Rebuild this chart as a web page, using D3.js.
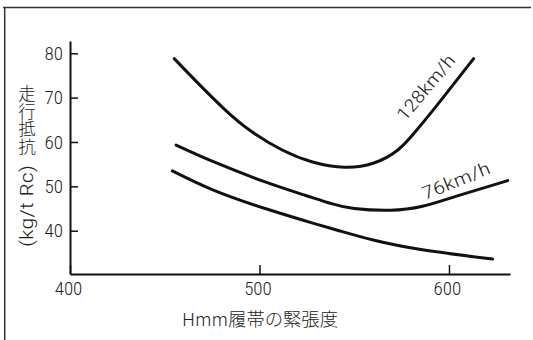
<!DOCTYPE html>
<html><head><meta charset="utf-8">
<script src="https://cdn.jsdelivr.net/npm/d3@7"></script>
<style>
html,body{margin:0;padding:0;background:#fff;}
svg{display:block;}
text{fill:#222;}
</style></head>
<body>
<svg id="chart" width="533" height="340"></svg>
<script>
// ---- data ----
const xTicks = [400, 500, 600];
const yTicks = [40, 50, 60, 70, 80];
const seriesNames = ["128km/h", "76km/h", ""];
const x128 = [455, 467, 482, 496, 512, 528, 545, 560, 573, 583, 595, 613];
const y128 = [78.8, 73.5, 67.2, 62.3, 58.2, 55.5, 54.3, 55.2, 58.2, 62.7, 69.0, 78.8];
const x76 = [456, 476, 503, 524, 538, 550, 569, 586, 604, 631];
const y76 = [59.3, 55.5, 51.0, 48.0, 46.1, 45.0, 44.6, 45.5, 47.8, 51.3];
const xLow = [454, 476, 503, 529, 542, 560, 586, 623];
const yLow = [53.5, 49.1, 45.0, 41.6, 40.0, 37.9, 35.7, 33.6];
const xTitle = "Hmm履帯の緊張度";
const yTitleCJK = "走行抵抗";
const yTitleUnit = "(kg/t Rc)";

const svg = d3.select("#chart");
const FONT = "'Roboto Condensed','Liberation Sans Narrow',Roboto,'Liberation Sans',sans-serif";
const CJK = "'Noto Sans CJK JP','Noto Sans CJK SC',sans-serif";

// frame
svg.append("path").attr("d", "M3,7.5 H531 M4.7,7 V340")
  .attr("fill", "none").attr("stroke", "#333").attr("stroke-width", 1.5);

const x = d3.scaleLinear().domain([400, 632.2]).range([70, 510]);
const y = d3.scaleLinear().domain([30.24, 82.77]).range([274, 41]);

// axes
const gy = svg.append("g").attr("transform", "translate(70,0)")
  .call(d3.axisLeft(y).tickValues(yTicks).tickSizeInner(-8).tickSizeOuter(0).tickPadding(7));
const gx = svg.append("g").attr("transform", "translate(0,274)")
  .call(d3.axisBottom(x).tickValues(xTicks).tickSizeInner(-9).tickSizeOuter(0).tickPadding(8));
[gx, gy].forEach(g => {
  g.select(".domain").attr("stroke", "#111").attr("stroke-width", 2);
  g.selectAll(".tick line").attr("stroke", "#111").attr("stroke-width", 1.5);
  g.selectAll(".tick text").attr("font-family", FONT).attr("font-size", 19)
    .attr("font-weight", 300).attr("fill", "#222");
});
gx.selectAll(".tick text").attr("dx", -2);

// curves
const line = d3.line().x(d => x(d[0])).y(d => y(d[1])).curve(d3.curveNatural);
[[x128, y128], [x76, y76], [xLow, yLow]].forEach(([xs, ys]) => {
  svg.append("path").datum(xs.map((v, i) => [v, ys[i]]))
    .attr("d", line).attr("fill", "none").attr("stroke", "#111")
    .attr("stroke-width", 3).attr("stroke-linecap", "round");
});

// curve labels
svg.append("text").text(seriesNames[0])
  .attr("transform", "translate(405,122) rotate(-50)")
  .attr("font-family", FONT).attr("font-size", 18).attr("font-weight", 300)
  .attr("textLength", 80).attr("lengthAdjust", "spacingAndGlyphs");
svg.append("text").text(seriesNames[1])
  .attr("transform", "translate(425,200) rotate(-22)")
  .attr("font-family", FONT).attr("font-size", 18).attr("font-weight", 300)
  .attr("textLength", 72).attr("lengthAdjust", "spacingAndGlyphs");

// x title
svg.append("text").text(xTitle)
  .attr("x", 182).attr("y", 326)
  .attr("font-family", CJK).attr("font-size", 18).attr("font-weight", 300)
  .attr("textLength", 156).attr("lengthAdjust", "spacingAndGlyphs");

// y title
svg.append("text").text(yTitleCJK)
  .attr("x", 27).attr("y", 85)
  .style("writing-mode", "vertical-rl").style("text-orientation", "upright")
  .attr("font-family", CJK).attr("font-size", 17.5).attr("font-weight", 300)
  .attr("letter-spacing", 0);
svg.append("text").text(yTitleUnit)
  .attr("transform", "translate(33,206) rotate(-90)")
  .attr("text-anchor", "middle")
  .attr("font-family", FONT).attr("font-size", 18).attr("font-weight", 300)
  .attr("textLength", 82).attr("lengthAdjust", "spacingAndGlyphs");
</script>
</body></html>
